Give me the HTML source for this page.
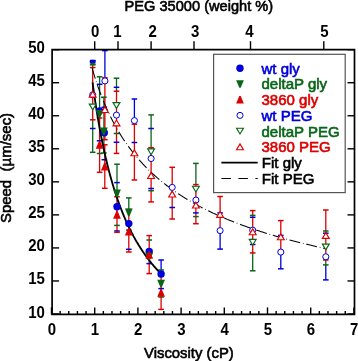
<!DOCTYPE html>
<html><head><meta charset="utf-8"><style>html,body{margin:0;padding:0;background:#fff;overflow:hidden}svg{display:block;will-change:transform}</style></head>
<body><svg width="358" height="361" viewBox="0 0 358 361">
<rect x="0" y="0" width="358" height="361" fill="#fff"/>
<rect x="213.6" y="54.3" width="131.6" height="138.3" fill="#fff" stroke="#555" stroke-width="1.2"/>
<circle cx="240.00" cy="68.30" r="3.7" fill="#0000dc"/>
<text x="261.5" y="73.70" font-family="Liberation Sans" font-size="15" fill="#0000dc" stroke="#0000dc" stroke-width="0.6">wt gly</text>
<polygon points="236.15,80.20 243.85,80.20 240.70,87.80 239.30,87.80" fill="#086618"/>
<text x="261.5" y="89.40" font-family="Liberation Sans" font-size="15" fill="#086618" stroke="#086618" stroke-width="0.6">deltaP gly</text>
<polygon points="236.15,103.50 243.85,103.50 240.70,95.90 239.30,95.90" fill="#dc0000"/>
<text x="261.5" y="105.10" font-family="Liberation Sans" font-size="15" fill="#dc0000" stroke="#dc0000" stroke-width="0.6">3860 gly</text>
<circle cx="240.00" cy="115.40" r="3.05" fill="#fff" stroke="#0000dc" stroke-width="1.0"/>
<text x="261.5" y="120.80" font-family="Liberation Sans" font-size="15" fill="#0000dc" stroke="#0000dc" stroke-width="0.6">wt PEG</text>
<polygon points="236.55,128.20 243.45,128.20 240.00,134.00 240.00,134.00" fill="#fff" stroke="#086618" stroke-width="1.15"/>
<text x="261.5" y="136.50" font-family="Liberation Sans" font-size="15" fill="#086618" stroke="#086618" stroke-width="0.6">deltaP PEG</text>
<polygon points="236.55,149.70 243.45,149.70 240.00,143.90 240.00,143.90" fill="#fff" stroke="#dc0000" stroke-width="1.15"/>
<text x="261.5" y="152.20" font-family="Liberation Sans" font-size="15" fill="#dc0000" stroke="#dc0000" stroke-width="0.6">3860 PEG</text>
<line x1="221.40" y1="162.60" x2="257.70" y2="162.60" stroke="#000" stroke-width="1.55" />
<line x1="221.40" y1="178.40" x2="257.70" y2="178.40" stroke="#000" stroke-width="1.05" stroke-dasharray="9.5 7.5"/>
<text x="261.8" y="168.20" font-family="Liberation Sans" stroke="#000" stroke-width="0.6" font-size="15">Fit gly</text>
<text x="261.8" y="183.80" font-family="Liberation Sans" stroke="#000" stroke-width="0.6" font-size="15">Fit PEG</text>
<line x1="161.10" y1="260.00" x2="161.10" y2="270.00" stroke="#0000dc" stroke-width="1.3" />
<line x1="99.60" y1="76.80" x2="99.60" y2="118.00" stroke="#086618" stroke-width="1.3" />
<line x1="103.90" y1="97.20" x2="103.90" y2="153.00" stroke="#086618" stroke-width="1.3" />
<line x1="117.00" y1="164.20" x2="117.00" y2="196.80" stroke="#086618" stroke-width="1.3" />
<line x1="128.80" y1="197.90" x2="128.80" y2="209.40" stroke="#086618" stroke-width="1.3" />
<line x1="161.10" y1="270.00" x2="161.10" y2="276.00" stroke="#086618" stroke-width="1.3" />
<line x1="99.60" y1="118.00" x2="99.60" y2="172.30" stroke="#dc0000" stroke-width="1.3" />
<line x1="104.80" y1="144.80" x2="104.80" y2="188.30" stroke="#dc0000" stroke-width="1.3" />
<line x1="117.00" y1="196.80" x2="117.00" y2="232.30" stroke="#dc0000" stroke-width="1.3" />
<line x1="128.80" y1="209.40" x2="128.80" y2="252.00" stroke="#dc0000" stroke-width="1.3" />
<line x1="149.20" y1="235.60" x2="149.20" y2="273.60" stroke="#dc0000" stroke-width="1.3" />
<line x1="161.10" y1="276.00" x2="161.10" y2="309.40" stroke="#dc0000" stroke-width="1.3" />
<line x1="92.70" y1="60.50" x2="92.70" y2="64.40" stroke="#0000dc" stroke-width="1.3" />
<line x1="104.90" y1="50.60" x2="104.90" y2="77.80" stroke="#0000dc" stroke-width="1.3" />
<line x1="134.40" y1="99.00" x2="134.40" y2="124.20" stroke="#0000dc" stroke-width="1.3" />
<line x1="220.10" y1="232.00" x2="220.10" y2="249.10" stroke="#0000dc" stroke-width="1.3" />
<line x1="280.80" y1="253.00" x2="280.80" y2="268.80" stroke="#0000dc" stroke-width="1.3" />
<line x1="325.80" y1="264.90" x2="325.80" y2="279.90" stroke="#0000dc" stroke-width="1.3" />
<line x1="92.70" y1="64.40" x2="92.70" y2="67.50" stroke="#086618" stroke-width="1.3" />
<line x1="92.70" y1="119.80" x2="92.70" y2="152.30" stroke="#086618" stroke-width="1.3" />
<line x1="116.50" y1="78.20" x2="116.50" y2="91.20" stroke="#086618" stroke-width="1.3" />
<line x1="151.10" y1="114.90" x2="151.10" y2="147.70" stroke="#086618" stroke-width="1.3" />
<line x1="195.90" y1="163.40" x2="195.90" y2="184.60" stroke="#086618" stroke-width="1.3" />
<line x1="252.70" y1="252.90" x2="252.70" y2="270.80" stroke="#086618" stroke-width="1.3" />
<line x1="325.80" y1="260.00" x2="325.80" y2="264.90" stroke="#086618" stroke-width="1.3" />
<line x1="92.70" y1="67.50" x2="92.70" y2="119.80" stroke="#dc0000" stroke-width="1.3" />
<line x1="104.90" y1="77.80" x2="104.90" y2="139.70" stroke="#dc0000" stroke-width="1.3" />
<line x1="116.50" y1="91.20" x2="116.50" y2="153.40" stroke="#dc0000" stroke-width="1.3" />
<line x1="134.40" y1="124.20" x2="134.40" y2="180.00" stroke="#dc0000" stroke-width="1.3" />
<line x1="151.10" y1="147.70" x2="151.10" y2="201.90" stroke="#dc0000" stroke-width="1.3" />
<line x1="172.20" y1="167.30" x2="172.20" y2="219.00" stroke="#dc0000" stroke-width="1.3" />
<line x1="195.90" y1="184.60" x2="195.90" y2="223.70" stroke="#dc0000" stroke-width="1.3" />
<line x1="220.10" y1="196.50" x2="220.10" y2="232.00" stroke="#dc0000" stroke-width="1.3" />
<line x1="252.70" y1="210.60" x2="252.70" y2="252.90" stroke="#dc0000" stroke-width="1.3" />
<line x1="280.80" y1="220.60" x2="280.80" y2="253.00" stroke="#dc0000" stroke-width="1.3" />
<line x1="325.80" y1="210.00" x2="325.80" y2="260.00" stroke="#dc0000" stroke-width="1.3" />
<line x1="96.80" y1="84.30" x2="102.40" y2="84.30" stroke="#0000dc" stroke-width="1.5" />
<line x1="96.80" y1="140.80" x2="102.40" y2="140.80" stroke="#0000dc" stroke-width="1.5" />
<line x1="101.50" y1="107.30" x2="107.10" y2="107.30" stroke="#0000dc" stroke-width="1.5" />
<line x1="101.50" y1="159.70" x2="107.10" y2="159.70" stroke="#0000dc" stroke-width="1.5" />
<line x1="114.20" y1="182.60" x2="119.80" y2="182.60" stroke="#0000dc" stroke-width="1.5" />
<line x1="114.20" y1="231.00" x2="119.80" y2="231.00" stroke="#0000dc" stroke-width="1.5" />
<line x1="126.00" y1="249.30" x2="131.60" y2="249.30" stroke="#0000dc" stroke-width="1.5" />
<line x1="146.40" y1="263.60" x2="152.00" y2="263.60" stroke="#0000dc" stroke-width="1.5" />
<line x1="158.30" y1="260.00" x2="163.90" y2="260.00" stroke="#0000dc" stroke-width="1.5" />
<line x1="158.30" y1="288.60" x2="163.90" y2="288.60" stroke="#0000dc" stroke-width="1.5" />
<line x1="96.80" y1="76.80" x2="102.40" y2="76.80" stroke="#086618" stroke-width="1.5" />
<line x1="96.80" y1="153.50" x2="102.40" y2="153.50" stroke="#086618" stroke-width="1.5" />
<line x1="101.10" y1="97.20" x2="106.70" y2="97.20" stroke="#086618" stroke-width="1.5" />
<line x1="101.10" y1="153.00" x2="106.70" y2="153.00" stroke="#086618" stroke-width="1.5" />
<line x1="114.20" y1="164.20" x2="119.80" y2="164.20" stroke="#086618" stroke-width="1.5" />
<line x1="114.20" y1="225.40" x2="119.80" y2="225.40" stroke="#086618" stroke-width="1.5" />
<line x1="126.00" y1="197.90" x2="131.60" y2="197.90" stroke="#086618" stroke-width="1.5" />
<line x1="126.00" y1="230.10" x2="131.60" y2="230.10" stroke="#086618" stroke-width="1.5" />
<line x1="146.40" y1="240.00" x2="152.00" y2="240.00" stroke="#086618" stroke-width="1.5" />
<line x1="158.30" y1="270.00" x2="163.90" y2="270.00" stroke="#086618" stroke-width="1.5" />
<line x1="158.30" y1="297.00" x2="163.90" y2="297.00" stroke="#086618" stroke-width="1.5" />
<line x1="96.80" y1="118.00" x2="102.40" y2="118.00" stroke="#dc0000" stroke-width="1.5" />
<line x1="96.80" y1="172.30" x2="102.40" y2="172.30" stroke="#dc0000" stroke-width="1.5" />
<line x1="102.00" y1="144.80" x2="107.60" y2="144.80" stroke="#dc0000" stroke-width="1.5" />
<line x1="102.00" y1="188.30" x2="107.60" y2="188.30" stroke="#dc0000" stroke-width="1.5" />
<line x1="114.20" y1="196.80" x2="119.80" y2="196.80" stroke="#dc0000" stroke-width="1.5" />
<line x1="114.20" y1="232.30" x2="119.80" y2="232.30" stroke="#dc0000" stroke-width="1.5" />
<line x1="126.00" y1="209.40" x2="131.60" y2="209.40" stroke="#dc0000" stroke-width="1.5" />
<line x1="126.00" y1="252.00" x2="131.60" y2="252.00" stroke="#dc0000" stroke-width="1.5" />
<line x1="146.40" y1="235.60" x2="152.00" y2="235.60" stroke="#dc0000" stroke-width="1.5" />
<line x1="146.40" y1="273.60" x2="152.00" y2="273.60" stroke="#dc0000" stroke-width="1.5" />
<line x1="158.30" y1="276.00" x2="163.90" y2="276.00" stroke="#dc0000" stroke-width="1.5" />
<line x1="158.30" y1="309.40" x2="163.90" y2="309.40" stroke="#dc0000" stroke-width="1.5" />
<line x1="89.90" y1="60.50" x2="95.50" y2="60.50" stroke="#0000dc" stroke-width="1.5" />
<line x1="89.90" y1="128.50" x2="95.50" y2="128.50" stroke="#0000dc" stroke-width="1.5" />
<line x1="102.10" y1="50.60" x2="107.70" y2="50.60" stroke="#0000dc" stroke-width="1.5" />
<line x1="102.10" y1="111.20" x2="107.70" y2="111.20" stroke="#0000dc" stroke-width="1.5" />
<line x1="113.70" y1="87.30" x2="119.30" y2="87.30" stroke="#0000dc" stroke-width="1.5" />
<line x1="113.70" y1="142.30" x2="119.30" y2="142.30" stroke="#0000dc" stroke-width="1.5" />
<line x1="131.60" y1="99.00" x2="137.20" y2="99.00" stroke="#0000dc" stroke-width="1.5" />
<line x1="131.60" y1="142.50" x2="137.20" y2="142.50" stroke="#0000dc" stroke-width="1.5" />
<line x1="148.30" y1="128.50" x2="153.90" y2="128.50" stroke="#0000dc" stroke-width="1.5" />
<line x1="148.30" y1="188.50" x2="153.90" y2="188.50" stroke="#0000dc" stroke-width="1.5" />
<line x1="169.40" y1="207.50" x2="175.00" y2="207.50" stroke="#0000dc" stroke-width="1.5" />
<line x1="193.10" y1="187.30" x2="198.70" y2="187.30" stroke="#0000dc" stroke-width="1.5" />
<line x1="193.10" y1="212.90" x2="198.70" y2="212.90" stroke="#0000dc" stroke-width="1.5" />
<line x1="217.30" y1="212.90" x2="222.90" y2="212.90" stroke="#0000dc" stroke-width="1.5" />
<line x1="217.30" y1="249.10" x2="222.90" y2="249.10" stroke="#0000dc" stroke-width="1.5" />
<line x1="249.90" y1="217.30" x2="255.50" y2="217.30" stroke="#0000dc" stroke-width="1.5" />
<line x1="249.90" y1="244.50" x2="255.50" y2="244.50" stroke="#0000dc" stroke-width="1.5" />
<line x1="278.00" y1="235.40" x2="283.60" y2="235.40" stroke="#0000dc" stroke-width="1.5" />
<line x1="278.00" y1="268.80" x2="283.60" y2="268.80" stroke="#0000dc" stroke-width="1.5" />
<line x1="323.00" y1="233.20" x2="328.60" y2="233.20" stroke="#0000dc" stroke-width="1.5" />
<line x1="323.00" y1="279.90" x2="328.60" y2="279.90" stroke="#0000dc" stroke-width="1.5" />
<line x1="89.90" y1="64.40" x2="95.50" y2="64.40" stroke="#086618" stroke-width="1.5" />
<line x1="89.90" y1="152.30" x2="95.50" y2="152.30" stroke="#086618" stroke-width="1.5" />
<line x1="113.70" y1="78.20" x2="119.30" y2="78.20" stroke="#086618" stroke-width="1.5" />
<line x1="113.70" y1="133.50" x2="119.30" y2="133.50" stroke="#086618" stroke-width="1.5" />
<line x1="148.30" y1="114.90" x2="153.90" y2="114.90" stroke="#086618" stroke-width="1.5" />
<line x1="148.30" y1="190.70" x2="153.90" y2="190.70" stroke="#086618" stroke-width="1.5" />
<line x1="193.10" y1="163.40" x2="198.70" y2="163.40" stroke="#086618" stroke-width="1.5" />
<line x1="193.10" y1="216.60" x2="198.70" y2="216.60" stroke="#086618" stroke-width="1.5" />
<line x1="249.90" y1="215.40" x2="255.50" y2="215.40" stroke="#086618" stroke-width="1.5" />
<line x1="249.90" y1="270.80" x2="255.50" y2="270.80" stroke="#086618" stroke-width="1.5" />
<line x1="323.00" y1="231.00" x2="328.60" y2="231.00" stroke="#086618" stroke-width="1.5" />
<line x1="323.00" y1="264.90" x2="328.60" y2="264.90" stroke="#086618" stroke-width="1.5" />
<line x1="89.90" y1="67.50" x2="95.50" y2="67.50" stroke="#dc0000" stroke-width="1.5" />
<line x1="89.90" y1="119.80" x2="95.50" y2="119.80" stroke="#dc0000" stroke-width="1.5" />
<line x1="102.10" y1="77.80" x2="107.70" y2="77.80" stroke="#dc0000" stroke-width="1.5" />
<line x1="102.10" y1="139.70" x2="107.70" y2="139.70" stroke="#dc0000" stroke-width="1.5" />
<line x1="113.70" y1="91.20" x2="119.30" y2="91.20" stroke="#dc0000" stroke-width="1.5" />
<line x1="113.70" y1="153.40" x2="119.30" y2="153.40" stroke="#dc0000" stroke-width="1.5" />
<line x1="131.60" y1="124.20" x2="137.20" y2="124.20" stroke="#dc0000" stroke-width="1.5" />
<line x1="131.60" y1="180.00" x2="137.20" y2="180.00" stroke="#dc0000" stroke-width="1.5" />
<line x1="148.30" y1="147.70" x2="153.90" y2="147.70" stroke="#dc0000" stroke-width="1.5" />
<line x1="148.30" y1="201.90" x2="153.90" y2="201.90" stroke="#dc0000" stroke-width="1.5" />
<line x1="169.40" y1="167.30" x2="175.00" y2="167.30" stroke="#dc0000" stroke-width="1.5" />
<line x1="169.40" y1="219.00" x2="175.00" y2="219.00" stroke="#dc0000" stroke-width="1.5" />
<line x1="193.10" y1="184.60" x2="198.70" y2="184.60" stroke="#dc0000" stroke-width="1.5" />
<line x1="193.10" y1="223.70" x2="198.70" y2="223.70" stroke="#dc0000" stroke-width="1.5" />
<line x1="217.30" y1="196.50" x2="222.90" y2="196.50" stroke="#dc0000" stroke-width="1.5" />
<line x1="217.30" y1="232.00" x2="222.90" y2="232.00" stroke="#dc0000" stroke-width="1.5" />
<line x1="249.90" y1="210.60" x2="255.50" y2="210.60" stroke="#dc0000" stroke-width="1.5" />
<line x1="249.90" y1="252.90" x2="255.50" y2="252.90" stroke="#dc0000" stroke-width="1.5" />
<line x1="278.00" y1="220.60" x2="283.60" y2="220.60" stroke="#dc0000" stroke-width="1.5" />
<line x1="278.00" y1="253.00" x2="283.60" y2="253.00" stroke="#dc0000" stroke-width="1.5" />
<line x1="323.00" y1="210.00" x2="328.60" y2="210.00" stroke="#dc0000" stroke-width="1.5" />
<line x1="323.00" y1="260.00" x2="328.60" y2="260.00" stroke="#dc0000" stroke-width="1.5" />
<path d="M92.11,68.16 L93.08,71.49 L94.05,74.70 L95.03,77.80 L96.00,80.81 L96.97,83.73 L97.95,86.55 L98.92,89.29 L99.89,91.95 L100.86,94.53 L101.84,97.04 L102.81,99.48 L103.78,101.86 L104.76,104.17 L105.73,106.42 L106.70,108.61 L107.67,110.75 L108.65,112.83 L109.62,114.87 L110.59,116.85 L111.57,118.79 L112.54,120.68 L113.51,122.53 L114.48,124.34 L115.46,126.11 L116.43,127.83 L117.40,129.53 L118.38,131.18 L119.35,132.80 L120.32,134.39 L121.30,135.95 L122.27,137.47 L123.24,138.96 L124.21,140.43 L125.19,141.87 L126.16,143.27 L127.13,144.66 L128.11,146.01 L129.08,147.35 L130.05,148.66 L131.02,149.94 L132.00,151.20 L132.97,152.44 L133.94,153.66 L134.92,154.86 L135.89,156.04 L136.86,157.20 L137.83,158.34 L138.81,159.46 L139.78,160.56 L140.75,161.65 L141.73,162.72 L142.70,163.77 L143.67,164.81 L144.64,165.83 L145.62,166.83 L146.59,167.82 L147.56,168.80 L148.54,169.76 L149.51,170.70 L150.48,171.64 L151.45,172.56 L152.43,173.47 L153.40,174.36 L154.37,175.24 L155.35,176.11 L156.32,176.97 L157.29,177.82 L158.27,178.65 L159.24,179.48 L160.21,180.29 L161.18,181.10 L162.16,181.89 L163.13,182.67 L164.10,183.45 L165.08,184.21 L166.05,184.97 L167.02,185.71 L167.99,186.45 L168.97,187.17 L169.94,187.89 L170.91,188.60 L171.89,189.30 L172.86,190.00 L173.83,190.68 L174.80,191.36 L175.78,192.03 L176.75,192.69 L177.72,193.35 L178.70,193.99 L179.67,194.64 L180.64,195.27 L181.61,195.90 L182.59,196.51 L183.56,197.13 L184.53,197.73 L185.51,198.33 L186.48,198.93 L187.45,199.52 L188.43,200.10 L189.40,200.67 L190.37,201.24 L191.34,201.81 L192.32,202.36 L193.29,202.92 L194.26,203.46 L195.24,204.01 L196.21,204.54 L197.18,205.07 L198.15,205.60 L199.13,206.12 L200.10,206.64 L201.07,207.15 L202.05,207.66 L203.02,208.16 L203.99,208.65 L204.96,209.15 L205.94,209.64 L206.91,210.12 L207.88,210.60 L208.86,211.07 L209.83,211.54 L210.80,212.01 L211.77,212.47 L212.75,212.93 L213.72,213.38 L214.69,213.83 L215.67,214.28 L216.64,214.72 L217.61,215.16 L218.58,215.60 L219.56,216.03 L220.53,216.46 L221.50,216.88 L222.48,217.30 L223.45,217.72 L224.42,218.13 L225.40,218.54 L226.37,218.95 L227.34,219.36 L228.31,219.76 L229.29,220.15 L230.26,220.55 L231.23,220.94 L232.21,221.33 L233.18,221.71 L234.15,222.09 L235.12,222.47 L236.10,222.85 L237.07,223.22 L238.04,223.59 L239.02,223.96 L239.99,224.33 L240.96,224.69 L241.93,225.05 L242.91,225.41 L243.88,225.76 L244.85,226.11 L245.83,226.46 L246.80,226.81 L247.77,227.15 L248.74,227.49 L249.72,227.83 L250.69,228.17 L251.66,228.50 L252.64,228.84 L253.61,229.17 L254.58,229.49 L255.56,229.82 L256.53,230.14 L257.50,230.46 L258.47,230.78 L259.45,231.10 L260.42,231.41 L261.39,231.72 L262.37,232.03 L263.34,232.34 L264.31,232.65 L265.28,232.95 L266.26,233.25 L267.23,233.55 L268.20,233.85 L269.18,234.15 L270.15,234.44 L271.12,234.73 L272.09,235.02 L273.07,235.31 L274.04,235.60 L275.01,235.88 L275.99,236.17 L276.96,236.45 L277.93,236.73 L278.90,237.01 L279.88,237.28 L280.85,237.56 L281.82,237.83 L282.80,238.10 L283.77,238.37 L284.74,238.64 L285.72,238.90 L286.69,239.17 L287.66,239.43 L288.63,239.69 L289.61,239.95 L290.58,240.21 L291.55,240.47 L292.53,240.72 L293.50,240.98 L294.47,241.23 L295.44,241.48 L296.42,241.73 L297.39,241.98 L298.36,242.22 L299.34,242.47 L300.31,242.71 L301.28,242.95 L302.25,243.20 L303.23,243.43 L304.20,243.67 L305.17,243.91 L306.15,244.15 L307.12,244.38 L308.09,244.61 L309.06,244.84 L310.04,245.08 L311.01,245.30 L311.98,245.53 L312.96,245.76 L313.93,245.98 L314.90,246.21 L315.88,246.43 L316.85,246.65 L317.82,246.87 L318.79,247.09 L319.77,247.31 L320.74,247.53 L321.71,247.75 L322.69,247.96 L323.66,248.17 L324.63,248.39 L325.60,248.60" fill="none" stroke="#000" stroke-width="1.05" stroke-dasharray="11 2.8 0.7 2.8"/>
<path d="M92.54,82.31 L92.82,84.46 L93.11,86.58 L93.39,88.67 L93.68,90.73 L93.96,92.77 L94.25,94.77 L94.53,96.75 L94.82,98.71 L95.10,100.63 L95.38,102.53 L95.67,104.41 L95.95,106.26 L96.24,108.09 L96.52,109.89 L96.81,111.67 L97.09,113.43 L97.37,115.17 L97.66,116.88 L97.94,118.57 L98.23,120.24 L98.51,121.89 L98.80,123.52 L99.08,125.13 L99.37,126.72 L99.65,128.30 L99.93,129.85 L100.22,131.38 L100.50,132.90 L100.79,134.39 L101.07,135.87 L101.36,137.34 L101.64,138.78 L101.93,140.21 L102.21,141.62 L102.49,143.02 L102.78,144.40 L103.06,145.76 L103.35,147.11 L103.63,148.45 L103.92,149.77 L104.20,151.07 L104.48,152.36 L104.77,153.64 L105.05,154.90 L105.34,156.15 L105.62,157.39 L105.91,158.61 L106.19,159.82 L106.48,161.01 L106.76,162.20 L107.04,163.37 L107.33,164.53 L107.61,165.67 L107.90,166.81 L108.18,167.93 L108.47,169.04 L108.75,170.14 L109.04,171.23 L109.32,172.31 L109.60,173.38 L109.89,174.44 L110.17,175.48 L110.46,176.52 L110.74,177.55 L111.03,178.56 L111.31,179.57 L111.59,180.56 L111.88,181.55 L112.16,182.53 L112.45,183.50 L112.73,184.45 L113.02,185.40 L113.30,186.34 L113.59,187.28 L113.87,188.20 L114.15,189.11 L114.44,190.02 L114.72,190.92 L115.01,191.81 L115.29,192.69 L115.58,193.56 L115.86,194.43 L116.15,195.28 L116.43,196.13 L116.71,196.98 L117.00,197.81 L117.28,198.64 L117.57,199.46 L117.85,200.27 L118.14,201.08 L118.42,201.88 L118.70,202.67 L118.99,203.45 L119.27,204.23 L119.56,205.00 L119.84,205.77 L120.13,206.52 L120.41,207.28 L120.70,208.02 L120.98,208.76 L121.26,209.50 L121.55,210.22 L121.83,210.94 L122.12,211.66 L122.40,212.37 L122.69,213.07 L122.97,213.77 L123.26,214.46 L123.54,215.15 L123.82,215.83 L124.11,216.50 L124.39,217.17 L124.68,217.84 L124.96,218.50 L125.25,219.15 L125.53,219.80 L125.81,220.45 L126.10,221.08 L126.38,221.72 L126.67,222.35 L126.95,222.97 L127.24,223.59 L127.52,224.21 L127.81,224.82 L128.09,225.42 L128.37,226.02 L128.66,226.62 L128.94,227.21 L129.23,227.80 L129.51,228.38 L129.80,228.96 L130.08,229.53 L130.37,230.10 L130.65,230.67 L130.93,231.23 L131.22,231.79 L131.50,232.34 L131.79,232.89 L132.07,233.44 L132.36,233.98 L132.64,234.52 L132.92,235.05 L133.21,235.58 L133.49,236.11 L133.78,236.63 L134.06,237.15 L134.35,237.66 L134.63,238.17 L134.92,238.68 L135.20,239.19 L135.48,239.69 L135.77,240.18 L136.05,240.68 L136.34,241.17 L136.62,241.66 L136.91,242.14 L137.19,242.62 L137.48,243.10 L137.76,243.57 L138.04,244.04 L138.33,244.51 L138.61,244.98 L138.90,245.44 L139.18,245.90 L139.47,246.35 L139.75,246.80 L140.03,247.25 L140.32,247.70 L140.60,248.14 L140.89,248.58 L141.17,249.02 L141.46,249.46 L141.74,249.89 L142.03,250.32 L142.31,250.75 L142.59,251.17 L142.88,251.59 L143.16,252.01 L143.45,252.42 L143.73,252.84 L144.02,253.25 L144.30,253.66 L144.59,254.06 L144.87,254.47 L145.15,254.87 L145.44,255.26 L145.72,255.66 L146.01,256.05 L146.29,256.44 L146.58,256.83 L146.86,257.22 L147.14,257.60 L147.43,257.98 L147.71,258.36 L148.00,258.74 L148.28,259.11 L148.57,259.48 L148.85,259.85 L149.14,260.22 L149.42,260.59 L149.70,260.95 L149.99,261.31 L150.27,261.67 L150.56,262.03 L150.84,262.38 L151.13,262.74 L151.41,263.09 L151.70,263.43 L151.98,263.78 L152.26,264.13 L152.55,264.47 L152.83,264.81 L153.12,265.15 L153.40,265.48 L153.69,265.82 L153.97,266.15 L154.25,266.48 L154.54,266.81 L154.82,267.14 L155.11,267.47 L155.39,267.79 L155.68,268.11 L155.96,268.43 L156.25,268.75 L156.53,269.07 L156.81,269.38 L157.10,269.69 L157.38,270.01 L157.67,270.31 L157.95,270.62 L158.24,270.93 L158.52,271.23 L158.81,271.54 L159.09,271.84 L159.37,272.14 L159.66,272.44 L159.94,272.73 L160.23,273.03 L160.51,273.32 L160.80,273.61" fill="none" stroke="#000" stroke-width="1.85"/>
<circle cx="99.60" cy="111.00" r="3.7" fill="#0000dc"/>
<circle cx="104.30" cy="132.80" r="3.7" fill="#0000dc"/>
<circle cx="117.00" cy="206.80" r="3.7" fill="#0000dc"/>
<circle cx="128.80" cy="223.60" r="3.7" fill="#0000dc"/>
<circle cx="149.20" cy="251.50" r="3.7" fill="#0000dc"/>
<circle cx="161.10" cy="274.00" r="3.7" fill="#0000dc"/>
<polygon points="95.75,110.00 103.45,110.00 100.30,117.60 98.90,117.60" fill="#086618"/>
<polygon points="100.05,127.60 107.75,127.60 104.60,135.20 103.20,135.20" fill="#086618"/>
<polygon points="113.15,189.60 120.85,189.60 117.70,197.20 116.30,197.20" fill="#086618"/>
<polygon points="124.95,208.60 132.65,208.60 129.50,216.20 128.10,216.20" fill="#086618"/>
<polygon points="145.35,252.70 153.05,252.70 149.90,260.30 148.50,260.30" fill="#086618"/>
<polygon points="157.25,279.70 164.95,279.70 161.80,287.30 160.40,287.30" fill="#086618"/>
<polygon points="95.75,148.80 103.45,148.80 100.30,141.20 98.90,141.20" fill="#dc0000"/>
<polygon points="100.95,170.50 108.65,170.50 105.50,162.90 104.10,162.90" fill="#dc0000"/>
<polygon points="113.15,218.80 120.85,218.80 117.70,211.20 116.30,211.20" fill="#dc0000"/>
<polygon points="124.95,235.60 132.65,235.60 129.50,228.00 128.10,228.00" fill="#dc0000"/>
<polygon points="145.35,258.80 153.05,258.80 149.90,251.20 148.50,251.20" fill="#dc0000"/>
<polygon points="157.25,296.80 164.95,296.80 161.80,289.20 160.40,289.20" fill="#dc0000"/>
<circle cx="92.70" cy="94.80" r="3.05" fill="#fff" stroke="#0000dc" stroke-width="1.0"/>
<circle cx="104.90" cy="80.90" r="3.05" fill="#fff" stroke="#0000dc" stroke-width="1.0"/>
<circle cx="116.50" cy="115.10" r="3.05" fill="#fff" stroke="#0000dc" stroke-width="1.0"/>
<circle cx="134.40" cy="120.60" r="3.05" fill="#fff" stroke="#0000dc" stroke-width="1.0"/>
<circle cx="151.10" cy="158.50" r="3.05" fill="#fff" stroke="#0000dc" stroke-width="1.0"/>
<circle cx="172.20" cy="187.40" r="3.05" fill="#fff" stroke="#0000dc" stroke-width="1.0"/>
<circle cx="195.90" cy="200.10" r="3.05" fill="#fff" stroke="#0000dc" stroke-width="1.0"/>
<circle cx="220.10" cy="230.60" r="3.05" fill="#fff" stroke="#0000dc" stroke-width="1.0"/>
<circle cx="252.70" cy="230.20" r="3.05" fill="#fff" stroke="#0000dc" stroke-width="1.0"/>
<circle cx="280.80" cy="252.10" r="3.05" fill="#fff" stroke="#0000dc" stroke-width="1.0"/>
<circle cx="325.80" cy="256.80" r="3.05" fill="#fff" stroke="#0000dc" stroke-width="1.0"/>
<polygon points="89.25,104.10 96.15,104.10 92.70,109.90 92.70,109.90" fill="#fff" stroke="#086618" stroke-width="1.15"/>
<polygon points="113.05,102.60 119.95,102.60 116.50,108.40 116.50,108.40" fill="#fff" stroke="#086618" stroke-width="1.15"/>
<polygon points="147.65,148.90 154.55,148.90 151.10,154.70 151.10,154.70" fill="#fff" stroke="#086618" stroke-width="1.15"/>
<polygon points="192.45,186.20 199.35,186.20 195.90,192.00 195.90,192.00" fill="#fff" stroke="#086618" stroke-width="1.15"/>
<polygon points="249.25,239.40 256.15,239.40 252.70,245.20 252.70,245.20" fill="#fff" stroke="#086618" stroke-width="1.15"/>
<polygon points="322.35,244.10 329.25,244.10 325.80,249.90 325.80,249.90" fill="#fff" stroke="#086618" stroke-width="1.15"/>
<polygon points="89.25,97.10 96.15,97.10 92.70,91.30 92.70,91.30" fill="#fff" stroke="#dc0000" stroke-width="1.15"/>
<polygon points="101.45,112.50 108.35,112.50 104.90,106.70 104.90,106.70" fill="#fff" stroke="#dc0000" stroke-width="1.15"/>
<polygon points="113.05,125.80 119.95,125.80 116.50,120.00 116.50,120.00" fill="#fff" stroke="#dc0000" stroke-width="1.15"/>
<polygon points="130.95,155.70 137.85,155.70 134.40,149.90 134.40,149.90" fill="#fff" stroke="#dc0000" stroke-width="1.15"/>
<polygon points="147.65,178.50 154.55,178.50 151.10,172.70 151.10,172.70" fill="#fff" stroke="#dc0000" stroke-width="1.15"/>
<polygon points="168.75,197.00 175.65,197.00 172.20,191.20 172.20,191.20" fill="#fff" stroke="#dc0000" stroke-width="1.15"/>
<polygon points="192.45,208.00 199.35,208.00 195.90,202.20 195.90,202.20" fill="#fff" stroke="#dc0000" stroke-width="1.15"/>
<polygon points="216.65,217.30 223.55,217.30 220.10,211.50 220.10,211.50" fill="#fff" stroke="#dc0000" stroke-width="1.15"/>
<polygon points="249.25,234.70 256.15,234.70 252.70,228.90 252.70,228.90" fill="#fff" stroke="#dc0000" stroke-width="1.15"/>
<polygon points="277.35,239.70 284.25,239.70 280.80,233.90 280.80,233.90" fill="#fff" stroke="#dc0000" stroke-width="1.15"/>
<polygon points="322.35,238.40 329.25,238.40 325.80,232.60 325.80,232.60" fill="#fff" stroke="#dc0000" stroke-width="1.15"/>
<ellipse cx="92.7" cy="61.7" rx="3.0" ry="2.0" fill="#0000dc"/>
<line x1="89.90" y1="60.80" x2="95.50" y2="60.80" stroke="#0000dc" stroke-width="1.4" />
<line x1="92.70" y1="62.50" x2="92.70" y2="64.40" stroke="#086618" stroke-width="1.6" />
<line x1="89.90" y1="64.50" x2="95.50" y2="64.50" stroke="#086618" stroke-width="2.0" />
<path d="M52.1,49.7 H354.5 V314.4 H52.1 Z" fill="none" stroke="#000" stroke-width="1.7"/>
<line x1="51.50" y1="314.40" x2="51.50" y2="307.40" stroke="#000" stroke-width="1.4" />
<line x1="60.14" y1="314.40" x2="60.14" y2="311.00" stroke="#000" stroke-width="1.4" />
<line x1="68.78" y1="314.40" x2="68.78" y2="311.00" stroke="#000" stroke-width="1.4" />
<line x1="77.42" y1="314.40" x2="77.42" y2="311.00" stroke="#000" stroke-width="1.4" />
<line x1="86.06" y1="314.40" x2="86.06" y2="311.00" stroke="#000" stroke-width="1.4" />
<line x1="94.70" y1="314.40" x2="94.70" y2="307.40" stroke="#000" stroke-width="1.4" />
<line x1="103.34" y1="314.40" x2="103.34" y2="311.00" stroke="#000" stroke-width="1.4" />
<line x1="111.98" y1="314.40" x2="111.98" y2="311.00" stroke="#000" stroke-width="1.4" />
<line x1="120.62" y1="314.40" x2="120.62" y2="311.00" stroke="#000" stroke-width="1.4" />
<line x1="129.26" y1="314.40" x2="129.26" y2="311.00" stroke="#000" stroke-width="1.4" />
<line x1="137.90" y1="314.40" x2="137.90" y2="307.40" stroke="#000" stroke-width="1.4" />
<line x1="146.54" y1="314.40" x2="146.54" y2="311.00" stroke="#000" stroke-width="1.4" />
<line x1="155.18" y1="314.40" x2="155.18" y2="311.00" stroke="#000" stroke-width="1.4" />
<line x1="163.82" y1="314.40" x2="163.82" y2="311.00" stroke="#000" stroke-width="1.4" />
<line x1="172.46" y1="314.40" x2="172.46" y2="311.00" stroke="#000" stroke-width="1.4" />
<line x1="181.10" y1="314.40" x2="181.10" y2="307.40" stroke="#000" stroke-width="1.4" />
<line x1="189.74" y1="314.40" x2="189.74" y2="311.00" stroke="#000" stroke-width="1.4" />
<line x1="198.38" y1="314.40" x2="198.38" y2="311.00" stroke="#000" stroke-width="1.4" />
<line x1="207.02" y1="314.40" x2="207.02" y2="311.00" stroke="#000" stroke-width="1.4" />
<line x1="215.66" y1="314.40" x2="215.66" y2="311.00" stroke="#000" stroke-width="1.4" />
<line x1="224.30" y1="314.40" x2="224.30" y2="307.40" stroke="#000" stroke-width="1.4" />
<line x1="232.94" y1="314.40" x2="232.94" y2="311.00" stroke="#000" stroke-width="1.4" />
<line x1="241.58" y1="314.40" x2="241.58" y2="311.00" stroke="#000" stroke-width="1.4" />
<line x1="250.22" y1="314.40" x2="250.22" y2="311.00" stroke="#000" stroke-width="1.4" />
<line x1="258.86" y1="314.40" x2="258.86" y2="311.00" stroke="#000" stroke-width="1.4" />
<line x1="267.50" y1="314.40" x2="267.50" y2="307.40" stroke="#000" stroke-width="1.4" />
<line x1="276.14" y1="314.40" x2="276.14" y2="311.00" stroke="#000" stroke-width="1.4" />
<line x1="284.78" y1="314.40" x2="284.78" y2="311.00" stroke="#000" stroke-width="1.4" />
<line x1="293.42" y1="314.40" x2="293.42" y2="311.00" stroke="#000" stroke-width="1.4" />
<line x1="302.06" y1="314.40" x2="302.06" y2="311.00" stroke="#000" stroke-width="1.4" />
<line x1="310.70" y1="314.40" x2="310.70" y2="307.40" stroke="#000" stroke-width="1.4" />
<line x1="319.34" y1="314.40" x2="319.34" y2="311.00" stroke="#000" stroke-width="1.4" />
<line x1="327.98" y1="314.40" x2="327.98" y2="311.00" stroke="#000" stroke-width="1.4" />
<line x1="336.62" y1="314.40" x2="336.62" y2="311.00" stroke="#000" stroke-width="1.4" />
<line x1="345.26" y1="314.40" x2="345.26" y2="311.00" stroke="#000" stroke-width="1.4" />
<line x1="353.90" y1="314.40" x2="353.90" y2="307.40" stroke="#000" stroke-width="1.4" />
<line x1="52.10" y1="314.00" x2="59.10" y2="314.00" stroke="#000" stroke-width="1.4" />
<line x1="354.50" y1="314.00" x2="347.50" y2="314.00" stroke="#000" stroke-width="1.4" />
<line x1="52.10" y1="280.96" x2="59.10" y2="280.96" stroke="#000" stroke-width="1.4" />
<line x1="354.50" y1="280.96" x2="347.50" y2="280.96" stroke="#000" stroke-width="1.4" />
<line x1="52.10" y1="247.92" x2="59.10" y2="247.92" stroke="#000" stroke-width="1.4" />
<line x1="354.50" y1="247.92" x2="347.50" y2="247.92" stroke="#000" stroke-width="1.4" />
<line x1="52.10" y1="214.88" x2="59.10" y2="214.88" stroke="#000" stroke-width="1.4" />
<line x1="354.50" y1="214.88" x2="347.50" y2="214.88" stroke="#000" stroke-width="1.4" />
<line x1="52.10" y1="181.84" x2="59.10" y2="181.84" stroke="#000" stroke-width="1.4" />
<line x1="354.50" y1="181.84" x2="347.50" y2="181.84" stroke="#000" stroke-width="1.4" />
<line x1="52.10" y1="148.80" x2="59.10" y2="148.80" stroke="#000" stroke-width="1.4" />
<line x1="354.50" y1="148.80" x2="347.50" y2="148.80" stroke="#000" stroke-width="1.4" />
<line x1="52.10" y1="115.76" x2="59.10" y2="115.76" stroke="#000" stroke-width="1.4" />
<line x1="354.50" y1="115.76" x2="347.50" y2="115.76" stroke="#000" stroke-width="1.4" />
<line x1="52.10" y1="82.72" x2="59.10" y2="82.72" stroke="#000" stroke-width="1.4" />
<line x1="354.50" y1="82.72" x2="347.50" y2="82.72" stroke="#000" stroke-width="1.4" />
<line x1="52.10" y1="49.68" x2="59.10" y2="49.68" stroke="#000" stroke-width="1.4" />
<line x1="354.50" y1="49.68" x2="347.50" y2="49.68" stroke="#000" stroke-width="1.4" />
<line x1="94.70" y1="49.70" x2="94.70" y2="41.20" stroke="#000" stroke-width="1.4" />
<line x1="118.00" y1="49.70" x2="118.00" y2="41.20" stroke="#000" stroke-width="1.4" />
<line x1="151.10" y1="49.70" x2="151.10" y2="41.20" stroke="#000" stroke-width="1.4" />
<line x1="194.00" y1="49.70" x2="194.00" y2="41.20" stroke="#000" stroke-width="1.4" />
<line x1="250.50" y1="49.70" x2="250.50" y2="41.20" stroke="#000" stroke-width="1.4" />
<line x1="323.80" y1="49.70" x2="323.80" y2="41.20" stroke="#000" stroke-width="1.4" />
<text transform="translate(44.9,317.50) scale(1,1.05)" font-family="Liberation Sans" font-weight="bold" font-size="15" text-anchor="end">10</text>
<text transform="translate(44.9,284.46) scale(1,1.05)" font-family="Liberation Sans" font-weight="bold" font-size="15" text-anchor="end">15</text>
<text transform="translate(44.9,251.42) scale(1,1.05)" font-family="Liberation Sans" font-weight="bold" font-size="15" text-anchor="end">20</text>
<text transform="translate(44.9,218.38) scale(1,1.05)" font-family="Liberation Sans" font-weight="bold" font-size="15" text-anchor="end">25</text>
<text transform="translate(44.9,185.34) scale(1,1.05)" font-family="Liberation Sans" font-weight="bold" font-size="15" text-anchor="end">30</text>
<text transform="translate(44.9,152.30) scale(1,1.05)" font-family="Liberation Sans" font-weight="bold" font-size="15" text-anchor="end">35</text>
<text transform="translate(44.9,119.26) scale(1,1.05)" font-family="Liberation Sans" font-weight="bold" font-size="15" text-anchor="end">40</text>
<text transform="translate(44.9,86.22) scale(1,1.05)" font-family="Liberation Sans" font-weight="bold" font-size="15" text-anchor="end">45</text>
<text transform="translate(44.9,53.18) scale(1,1.05)" font-family="Liberation Sans" font-weight="bold" font-size="15" text-anchor="end">50</text>
<text transform="translate(51.80,335.2) scale(1,1.05)" font-family="Liberation Sans" font-weight="bold" font-size="15" text-anchor="middle">0</text>
<text transform="translate(95.00,335.2) scale(1,1.05)" font-family="Liberation Sans" font-weight="bold" font-size="15" text-anchor="middle">1</text>
<text transform="translate(138.20,335.2) scale(1,1.05)" font-family="Liberation Sans" font-weight="bold" font-size="15" text-anchor="middle">2</text>
<text transform="translate(181.40,335.2) scale(1,1.05)" font-family="Liberation Sans" font-weight="bold" font-size="15" text-anchor="middle">3</text>
<text transform="translate(224.60,335.2) scale(1,1.05)" font-family="Liberation Sans" font-weight="bold" font-size="15" text-anchor="middle">4</text>
<text transform="translate(267.80,335.2) scale(1,1.05)" font-family="Liberation Sans" font-weight="bold" font-size="15" text-anchor="middle">5</text>
<text transform="translate(311.00,335.2) scale(1,1.05)" font-family="Liberation Sans" font-weight="bold" font-size="15" text-anchor="middle">6</text>
<text transform="translate(354.20,335.2) scale(1,1.05)" font-family="Liberation Sans" font-weight="bold" font-size="15" text-anchor="middle">7</text>
<text transform="translate(95.15,37.0) scale(1,1.05)" font-family="Liberation Sans" font-weight="bold" font-size="15" text-anchor="middle">0</text>
<text transform="translate(117.50,37.0) scale(1,1.05)" font-family="Liberation Sans" font-weight="bold" font-size="15" text-anchor="middle">1</text>
<text transform="translate(152.60,37.0) scale(1,1.05)" font-family="Liberation Sans" font-weight="bold" font-size="15" text-anchor="middle">2</text>
<text transform="translate(195.20,37.0) scale(1,1.05)" font-family="Liberation Sans" font-weight="bold" font-size="15" text-anchor="middle">3</text>
<text transform="translate(249.50,37.0) scale(1,1.05)" font-family="Liberation Sans" font-weight="bold" font-size="15" text-anchor="middle">4</text>
<text transform="translate(324.30,37.0) scale(1,1.05)" font-family="Liberation Sans" font-weight="bold" font-size="15" text-anchor="middle">5</text>
<text x="124.6" y="11.1" font-family="Liberation Sans" stroke="#000" stroke-width="0.6" font-size="14.7" textLength="148.5" lengthAdjust="spacingAndGlyphs">PEG 35000 (weight %)</text>
<text x="144.0" y="357.7" font-family="Liberation Sans" stroke="#000" stroke-width="0.6" font-size="14.7" textLength="89.8" lengthAdjust="spacingAndGlyphs">Viscosity (cP)</text>
<text transform="translate(11.3,223.0) rotate(-90)" x="0" y="0" font-family="Liberation Sans" stroke="#000" stroke-width="0.6" font-size="15" textLength="43" lengthAdjust="spacingAndGlyphs">Speed</text>
<text transform="translate(11.3,171.4) rotate(-90)" x="0" y="0" font-family="Liberation Sans" stroke="#000" stroke-width="0.6" font-size="15" textLength="58.5" lengthAdjust="spacingAndGlyphs">(µm/sec)</text>
</svg></body></html>
